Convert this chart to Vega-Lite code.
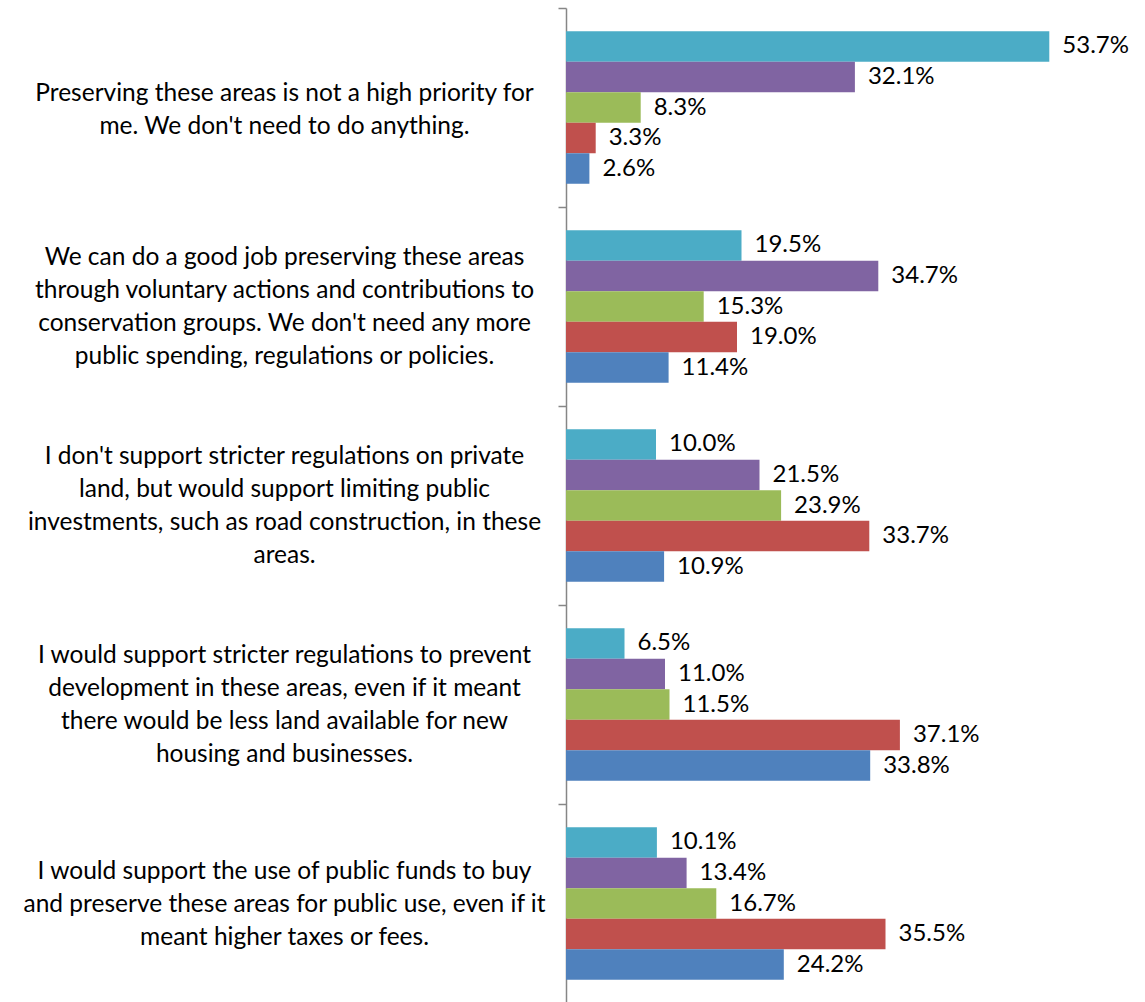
{
  "$schema": "https://vega.github.io/schema/vega-lite/v6.json",
  "width": 540,
  "height": 995,
  "autosize": {"type": "none"},
  "padding": {"left": 566, "top": 8, "right": 39, "bottom": 0},
  "background": "white",
  "config": {"view": {"stroke": null}, "font": "Lato"},
  "data": {
    "values": [
      {"q": "Preserving these areas is not a high priority for|me. We don't need to do anything.", "s": "Series 5", "v": 0.537},
      {"q": "Preserving these areas is not a high priority for|me. We don't need to do anything.", "s": "Series 4", "v": 0.321},
      {"q": "Preserving these areas is not a high priority for|me. We don't need to do anything.", "s": "Series 3", "v": 0.083},
      {"q": "Preserving these areas is not a high priority for|me. We don't need to do anything.", "s": "Series 2", "v": 0.033},
      {"q": "Preserving these areas is not a high priority for|me. We don't need to do anything.", "s": "Series 1", "v": 0.026},
      {"q": "We can do a good job preserving these areas|through voluntary actions and contributions to|conservation groups. We don't need any more|public spending, regulations or policies.", "s": "Series 5", "v": 0.195},
      {"q": "We can do a good job preserving these areas|through voluntary actions and contributions to|conservation groups. We don't need any more|public spending, regulations or policies.", "s": "Series 4", "v": 0.347},
      {"q": "We can do a good job preserving these areas|through voluntary actions and contributions to|conservation groups. We don't need any more|public spending, regulations or policies.", "s": "Series 3", "v": 0.153},
      {"q": "We can do a good job preserving these areas|through voluntary actions and contributions to|conservation groups. We don't need any more|public spending, regulations or policies.", "s": "Series 2", "v": 0.190},
      {"q": "We can do a good job preserving these areas|through voluntary actions and contributions to|conservation groups. We don't need any more|public spending, regulations or policies.", "s": "Series 1", "v": 0.114},
      {"q": "I don't support stricter regulations on private|land, but would support limiting public|investments, such as road construction, in these|areas.", "s": "Series 5", "v": 0.100},
      {"q": "I don't support stricter regulations on private|land, but would support limiting public|investments, such as road construction, in these|areas.", "s": "Series 4", "v": 0.215},
      {"q": "I don't support stricter regulations on private|land, but would support limiting public|investments, such as road construction, in these|areas.", "s": "Series 3", "v": 0.239},
      {"q": "I don't support stricter regulations on private|land, but would support limiting public|investments, such as road construction, in these|areas.", "s": "Series 2", "v": 0.337},
      {"q": "I don't support stricter regulations on private|land, but would support limiting public|investments, such as road construction, in these|areas.", "s": "Series 1", "v": 0.109},
      {"q": "I would support stricter regulations to prevent|development in these areas, even if it meant|there would be less land available for new|housing and businesses.", "s": "Series 5", "v": 0.065},
      {"q": "I would support stricter regulations to prevent|development in these areas, even if it meant|there would be less land available for new|housing and businesses.", "s": "Series 4", "v": 0.110},
      {"q": "I would support stricter regulations to prevent|development in these areas, even if it meant|there would be less land available for new|housing and businesses.", "s": "Series 3", "v": 0.115},
      {"q": "I would support stricter regulations to prevent|development in these areas, even if it meant|there would be less land available for new|housing and businesses.", "s": "Series 2", "v": 0.371},
      {"q": "I would support stricter regulations to prevent|development in these areas, even if it meant|there would be less land available for new|housing and businesses.", "s": "Series 1", "v": 0.338},
      {"q": "I would support the use of public funds to buy|and preserve these areas for public use, even if it|meant higher taxes or fees.", "s": "Series 5", "v": 0.101},
      {"q": "I would support the use of public funds to buy|and preserve these areas for public use, even if it|meant higher taxes or fees.", "s": "Series 4", "v": 0.134},
      {"q": "I would support the use of public funds to buy|and preserve these areas for public use, even if it|meant higher taxes or fees.", "s": "Series 3", "v": 0.167},
      {"q": "I would support the use of public funds to buy|and preserve these areas for public use, even if it|meant higher taxes or fees.", "s": "Series 2", "v": 0.355},
      {"q": "I would support the use of public funds to buy|and preserve these areas for public use, even if it|meant higher taxes or fees.", "s": "Series 1", "v": 0.242}
    ]
  },
  "encoding": {
    "y": {
      "field": "q",
      "type": "nominal",
      "sort": null,
      "scale": {"paddingInner": 0, "paddingOuter": 0},
      "axis": {
        "title": null,
        "labelExpr": "split(datum.label, '|')",
        "labelAlign": "center",
        "labelBaseline": "middle",
        "labelPadding": 274,
        "labelFontSize": 24.5,
        "labelLineHeight": 33,
        "labelColor": "#000000",
        "labelFont": "Lato",
        "labelLimit": 700,
        "labelOverlap": false,
        "labelOffset": {
          "condition": [
            {"test": "indexof(datum.label, 'Preserving') == 0", "value": -14.5},
            {"test": "indexof(datum.label, 'I would support the use') == 0", "value": -32}
          ],
          "value": -49
        },
        "tickBand": "extent",
        "tickSize": 8,
        "tickColor": "#868686",
        "tickWidth": 1.5,
        "domainColor": "#868686",
        "domainWidth": 1.5
      }
    },
    "yOffset": {
      "field": "s",
      "type": "nominal",
      "sort": ["Series 5", "Series 4", "Series 3", "Series 2", "Series 1"],
      "scale": {"paddingInner": 0, "paddingOuter": 0.762}
    },
    "x": {
      "field": "v",
      "type": "quantitative",
      "scale": {"domain": [0, 0.6]},
      "axis": null
    }
  },
  "layer": [
    {
      "mark": {"type": "bar"},
      "encoding": {
        "color": {
          "field": "s",
          "type": "nominal",
          "scale": {
            "domain": ["Series 5", "Series 4", "Series 3", "Series 2", "Series 1"],
            "range": ["#4BACC6", "#8064A2", "#9BBB59", "#C0504D", "#4F81BD"]
          },
          "legend": null
        }
      }
    },
    {
      "mark": {"type": "text", "align": "left", "baseline": "middle", "dx": 13, "fontSize": 24, "font": "Lato", "color": "#000000"},
      "encoding": {
        "text": {"field": "v", "type": "quantitative", "format": ".1%"}
      }
    }
  ]
}
